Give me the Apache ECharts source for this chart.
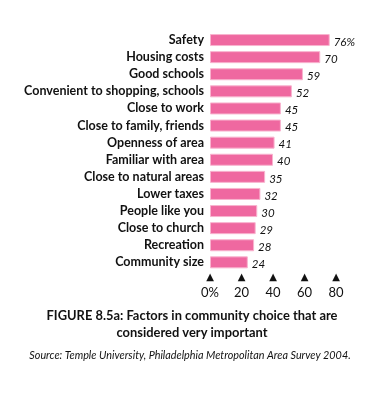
<!DOCTYPE html>
<html><head><meta charset="utf-8">
<script src="https://cdn.jsdelivr.net/npm/echarts@6/dist/echarts.min.js"></script>
<style>html,body{margin:0;padding:0;background:#fff}#c{width:385px;height:393px}</style>
</head><body><div id="c"></div>
<script>
const categories = ["Safety","Housing costs","Good schools","Convenient to shopping, schools","Close to work","Close to family, friends","Openness of area","Familiar with area","Close to natural areas","Lower taxes","People like you","Close to church","Recreation","Community size"];
const values = [76,70,59,52,45,45,41,40,35,32,30,29,28,24];
const tickLabels = {0:"0%",20:"20",40:"40",60:"60",80:"80"};
const titleText = "FIGURE 8.5a: Factors in community choice that are\nconsidered very important";
const sourceText = "Source: Temple University, Philadelphia Metropolitan Area Survey 2004.";

const chart = echarts.init(document.getElementById('c'));
chart.setOption({
  animation:false,
  backgroundColor:'#fff',
  title:[{
    text:titleText, left:187, top:302, textAlign:'center',
    textStyle:{fontFamily:'Lato',fontWeight:'bold',fontSize:12.9,color:'#111',lineHeight:17}
  },{
    text:sourceText, left:185, top:345, textAlign:'center',
    textStyle:{fontFamily:'Lato',fontStyle:'italic',fontWeight:'normal',fontSize:10.8,color:'#111'}
  }],
  grid:{left:210,right:49,top:31.5,height:239.4,containLabel:false},
  xAxis:{type:'value',min:0,max:80,interval:20,
    axisLine:{show:false},axisTick:{show:false},splitLine:{show:false},
    axisLabel:{margin:0,formatter:v=>'{t|▲}\n{v|'+tickLabels[v]+'}',
      rich:{t:{fontFamily:'DejaVu Sans',fontSize:10,color:'#111',lineHeight:14,align:'center'},
            v:{fontFamily:'Lato',fontSize:13,color:'#111',lineHeight:16,align:'center'}}}
  },
  yAxis:{type:'category',data:categories,inverse:true,
    axisLine:{show:false},axisTick:{show:false},
    axisLabel:{margin:6,fontFamily:'Lato',fontWeight:'bold',fontSize:12.5,color:'#111'}
  },
  series:[{type:'bar',data:values,barWidth:12,
    itemStyle:{color:'#EF68A0',borderColor:'#F8B3CE',borderWidth:1},
    label:{show:true,position:'right',distance:4,offset:[0,2],
      formatter:p=>p.dataIndex===0?p.value+'%':String(p.value),
      fontFamily:'Lato',fontStyle:'italic',fontSize:11.5,color:'#111'}
  }]
});
</script></body></html>
